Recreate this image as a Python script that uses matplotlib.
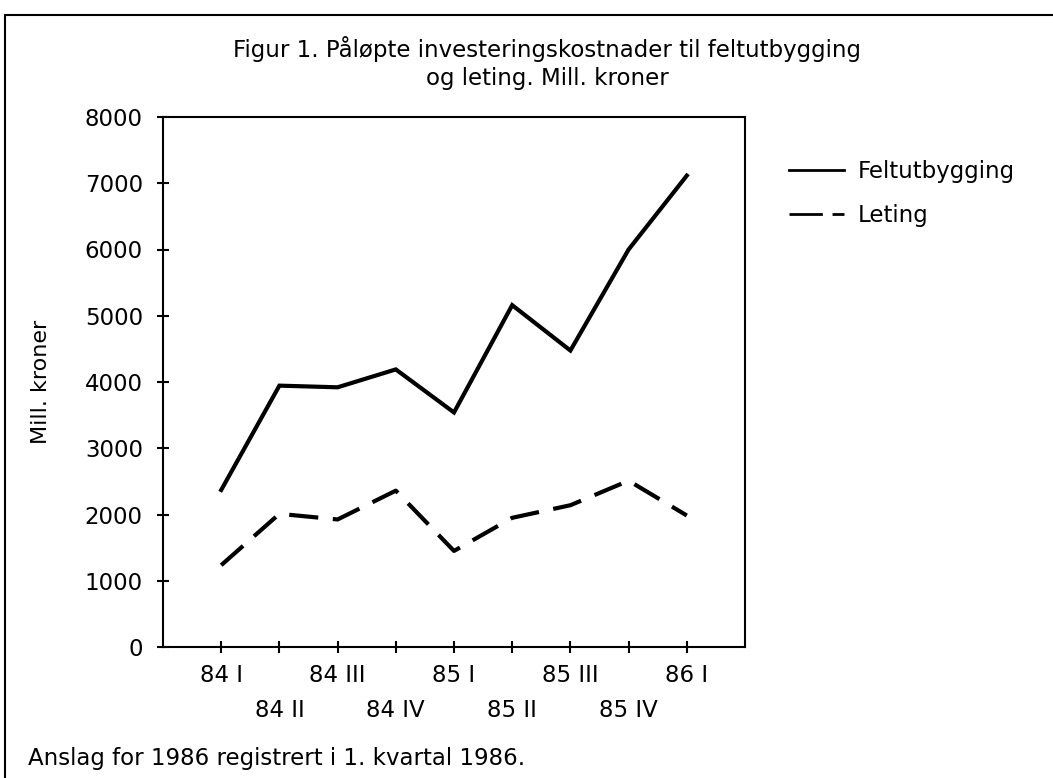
import matplotlib
matplotlib.use("Agg")
import matplotlib.pyplot as plt
from matplotlib.patches import Rectangle

quarters = ["84 I", "84 II", "84 III", "84 IV", "85 I", "85 II", "85 III", "85 IV", "86 I"]
feltutbygging = [2370, 3945, 3920, 4190, 3540, 5160, 4475, 6000, 7115]
leting = [1235, 2010, 1925, 2360, 1450, 1950, 2140, 2510, 1985]
yticks = [0, 1000, 2000, 3000, 4000, 5000, 6000, 7000, 8000]

plt.rcParams['font.family'] = ['DejaVu Sans']

fig = plt.figure(figsize=(10.53, 7.78), dpi=100)
ax = fig.add_axes([163/1053, 131/778, 582/1053, 530/778])

x = list(range(1, len(quarters) + 1))
ax.plot(x, feltutbygging, color="black", lw=3, solid_joinstyle="miter", label="Feltutbygging")
ax.plot(x, leting, color="black", lw=3, dashes=(7, 3.5), label="Leting")

ax.set_xlim(0, 10)
ax.set_ylim(0, 8000)
ax.set_yticks(yticks)
ax.set_yticklabels([str(v) for v in yticks], fontsize=16.5)
ax.set_xticks(x)
# alternate labels on two rows
labs = [q if i % 2 == 0 else "\n" + q for i, q in enumerate(quarters)]
ax.set_xticklabels(labs, fontsize=16.5, linespacing=1.65)
ax.tick_params(direction="inout", length=9, width=1.5, pad=8)
ax.tick_params(axis="y", pad=10)
for s in ax.spines.values():
    s.set_linewidth(1.5)

ax.set_ylabel("Mill. kroner", fontsize=16)
ax.yaxis.set_label_coords(-0.193, 0.5)

leg = ax.legend(loc="upper left", bbox_to_anchor=(768/1053, 1 - 139/778), bbox_transform=fig.transFigure,
                frameon=False, fontsize=16.5, handlelength=2.4, handletextpad=0.6, labelspacing=0.95)
leg.get_lines()[0].set_linewidth(2)
leg.get_lines()[1].set_linewidth(2)
leg.get_lines()[1].set_dashes((12, 3.5))

fig.text(547/1053, 1 - 63/778, "Figur 1. Påløpte investeringskostnader til feltutbygging\nog leting. Mill. kroner",
         ha="center", va="center", fontsize=16.5, linespacing=1.25)
fig.text(28/1053, 1 - 758/778, "Anslag for 1986 registrert i 1. kvartal 1986.", ha="left", va="center", fontsize=16.5)

# outer frame, cut off at right and bottom like the scan
fig.patches.append(Rectangle((5/1053, -0.1), 1.2, 1 - 15/778 + 0.1, transform=fig.transFigure,
                             fill=False, lw=1.5, edgecolor="black"))

fig.savefig("out.png", dpi=100)
